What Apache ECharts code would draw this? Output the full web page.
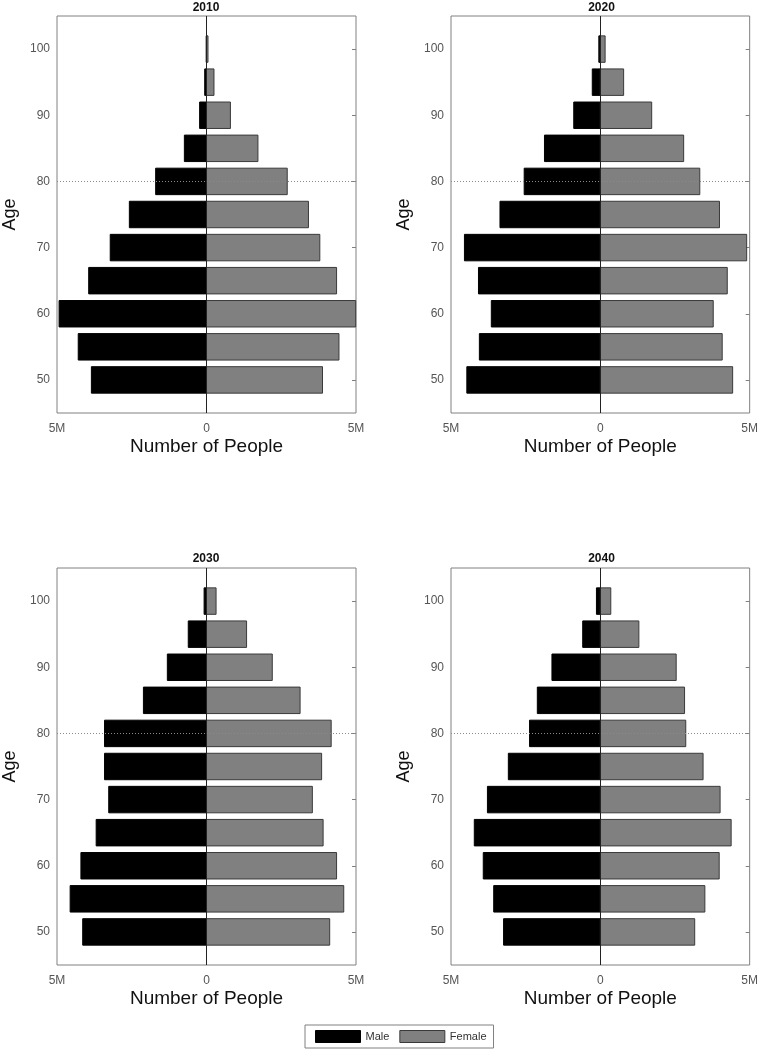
<!DOCTYPE html>
<html>
<head>
<meta charset="utf-8">
<script src="https://cdn.jsdelivr.net/npm/echarts@6/dist/echarts.min.js"></script>
<style>
html,body{margin:0;padding:0;background:#fff;}
#chart{width:761px;height:1050px;}
</style>
</head>
<body>
<div id="chart"></div>
<script>
// ---- data (millions of people) ----
const years = ['2010', '2020', '2030', '2040'];
const ages = [50, 55, 60, 65, 70, 75, 80, 85, 90, 95, 100];
const ageTicks = [50, 60, 70, 80, 90, 100];
const male2010 = [3.85, 4.29, 4.93, 3.94, 3.22, 2.58, 1.70, 0.74, 0.23, 0.06, 0.01];
const female2010 = [3.88, 4.43, 4.99, 4.35, 3.79, 3.41, 2.70, 1.72, 0.80, 0.25, 0.05];
const male2020 = [4.47, 4.05, 3.65, 4.08, 4.55, 3.36, 2.55, 1.87, 0.89, 0.27, 0.05];
const female2020 = [4.43, 4.08, 3.78, 4.25, 4.90, 3.99, 3.33, 2.79, 1.72, 0.78, 0.16];
const male2030 = [4.14, 4.56, 4.20, 3.69, 3.27, 3.41, 3.41, 2.11, 1.31, 0.61, 0.08];
const female2030 = [4.12, 4.59, 4.35, 3.90, 3.54, 3.85, 4.17, 3.13, 2.20, 1.34, 0.32];
const male2040 = [3.24, 3.57, 3.92, 4.22, 3.78, 3.08, 2.37, 2.11, 1.62, 0.59, 0.13];
const female2040 = [3.16, 3.50, 3.98, 4.38, 4.01, 3.44, 2.86, 2.82, 2.54, 1.29, 0.35];

const maleData = [male2010, male2020, male2030, male2040];
const femaleData = [female2010, female2020, female2030, female2040];

// ---- layout / style ----
const FONT = '"Liberation Sans", Arial, sans-serif';
const grids = [
  {left: 56, top: 16, width: 300, height: 397},
  {left: 451, top: 16, width: 301, height: 397},
  {left: 56, top: 568, width: 300, height: 397},
  {left: 451, top: 568, width: 301, height: 397}
];
const titleTops = [2, 2, 553, 553];
const BAR_SPAN = 4; // bar thickness in age units
const maleStyle = {fill: '#000000', stroke: '#000000', lineWidth: 1};
const femaleStyle = {fill: '#808080', stroke: '#3a3a3a', lineWidth: 1};

function makeRender(style) {
  return function (params, api) {
    const v = api.value(0), age = api.value(1);
    const p0 = api.coord([0, age]);
    const p1 = api.coord([v, age]);
    const h = api.size([0, BAR_SPAN])[1];
    return {
      type: 'rect',
      shape: {x: Math.min(p0[0], p1[0]), y: p0[1] - h / 2, width: Math.abs(p1[0] - p0[0]), height: h},
      style: Object.assign({}, style)
    };
  };
}

const option = {
  animation: false,
  backgroundColor: '#ffffff',
  textStyle: {fontFamily: FONT},
  title: [],
  grid: [],
  xAxis: [],
  yAxis: [],
  series: [],
  legend: {
    left: 305, top: 1025,
    orient: 'horizontal',
    icon: 'rect',
    itemWidth: 45, itemHeight: 12, itemGap: 10,
    borderColor: '#808080', borderWidth: 1,
    padding: [5, 7, 5, 10],
    textStyle: {fontSize: 11, color: '#333', fontFamily: FONT},
    selectedMode: false,
    data: [
      {name: 'Male', itemStyle: {color: '#000', borderColor: '#000', borderWidth: 1}},
      {name: 'Female', itemStyle: {color: '#808080', borderColor: '#3a3a3a', borderWidth: 1}}
    ]
  }
};

grids.forEach((g, i) => {
  option.grid.push(Object.assign({show: true, borderColor: '#808080', borderWidth: 1, backgroundColor: 'transparent'}, g));
  option.title.push({
    text: years[i],
    left: g.left + g.width / 2,
    top: titleTops[i],
    padding: 0,
    textAlign: 'center',
    textStyle: {fontSize: 12, fontWeight: 'bold', color: '#111', fontFamily: FONT}
  });
  option.xAxis.push({
    gridIndex: i, type: 'value', min: -5, max: 5, interval: 5,
    axisLine: {show: false}, axisTick: {show: false}, splitLine: {show: false},
    axisLabel: {
      formatter: v => v === 0 ? '0' : Math.abs(v) + 'M',
      color: '#555', fontSize: 12, margin: 10, fontFamily: FONT
    },
    name: 'Number of People', nameLocation: 'middle', nameGap: 24,
    nameTextStyle: {fontSize: 19, color: '#111', fontFamily: FONT}
  });
  option.yAxis.push({
    gridIndex: i, type: 'value', min: 45, max: 105, position: 'left',
    axisLine: {show: false}, splitLine: {show: false},
    axisTick: {show: false, customValues: ageTicks},
    axisLabel: {customValues: ageTicks, color: '#555', fontSize: 12, margin: 7, padding: [4, 0, 0, 0], fontFamily: FONT},
    name: 'Age', nameLocation: 'middle', nameGap: 38,
    nameTextStyle: {fontSize: 18, color: '#111', fontFamily: FONT}
  });
  option.yAxis.push({
    gridIndex: i, type: 'value', min: 45, max: 105, position: 'right',
    axisLine: {show: false}, splitLine: {show: false},
    axisTick: {show: true, inside: true, length: 4, customValues: ageTicks, lineStyle: {color: '#808080'}},
    axisLabel: {show: false, customValues: ageTicks}
  });
  const yIdx = i * 2;
  option.series.push({
    type: 'custom', name: 'Male', coordinateSystem: 'cartesian2d',
    xAxisIndex: i, yAxisIndex: yIdx,
    itemStyle: {color: '#000'},
    renderItem: makeRender(maleStyle),
    encode: {x: 0, y: 1},
    data: ages.map((a, k) => [-maleData[i][k], a]),
    z: 2
  });
  option.series.push({
    type: 'custom', name: 'Female', coordinateSystem: 'cartesian2d',
    xAxisIndex: i, yAxisIndex: yIdx,
    itemStyle: {color: '#808080'},
    renderItem: makeRender(femaleStyle),
    encode: {x: 0, y: 1},
    data: ages.map((a, k) => [femaleData[i][k], a]),
    z: 2,
    markLine: {
      silent: true, symbol: 'none', label: {show: false},
      data: [
        {yAxis: 80, lineStyle: {type: [1, 2], color: '#8a8a8a', width: 1}},
        {xAxis: 0, lineStyle: {type: 'solid', color: '#222', width: 1}}
      ]
    }
  });
});

const chart = echarts.init(document.getElementById('chart'), null, {renderer: 'canvas'});
chart.setOption(option);
</script>
</body>
</html>
